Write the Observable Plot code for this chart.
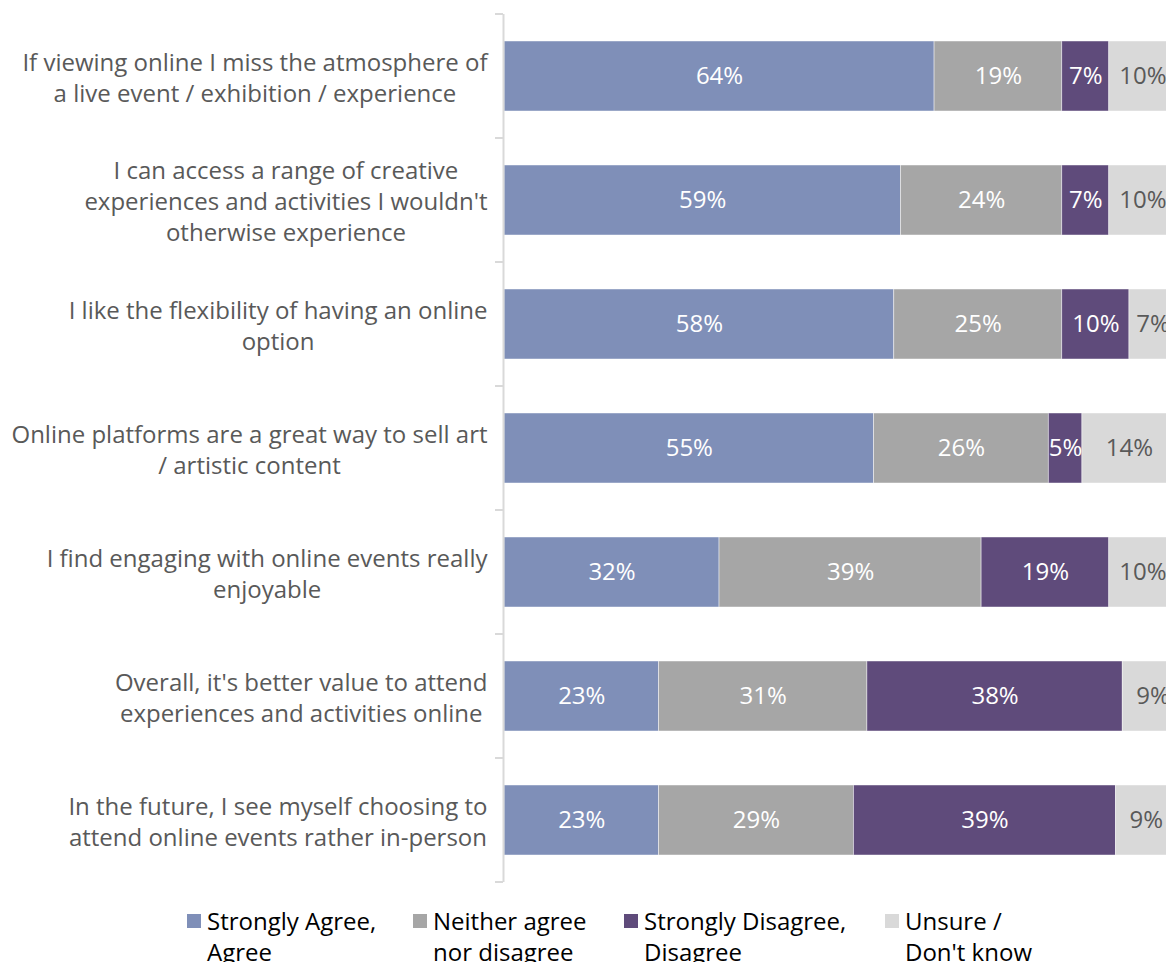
<!DOCTYPE html>
<html><head><meta charset="utf-8">
<script src="https://cdn.jsdelivr.net/npm/d3@7"></script>
<script src="https://cdn.jsdelivr.net/npm/@observablehq/plot@0.6"></script>
<style>
html,body{margin:0;padding:0;background:#fff;overflow:hidden;}
#wrap{width:1166px;height:962px;overflow:hidden;}
#chart{width:1176px;height:888px;}
#chart svg{max-width:none !important;width:1176px;height:888px;display:block;}
#legend{display:flex;margin-left:187px;margin-top:17px;font-family:"Open Sans",sans-serif;font-size:24px;line-height:31px;color:#000;}
.item{display:flex;align-items:flex-start;}
.sw{width:14px;height:14px;margin-top:9px;margin-right:6px;flex:none;}
</style></head><body>
<div id="wrap"><div id="chart"></div><div id="legend"></div></div>
<script>
const categories = [
  "If viewing online I miss the atmosphere of\na live event / exhibition / experience",
  "I can access a range of creative\nexperiences and activities I wouldn't\notherwise experience",
  "I like the flexibility of having an online\noption",
  "Online platforms are a great way to sell art\n/ artistic content",
  "I find engaging with online events really\nenjoyable",
  "Overall, it's better value to attend\nexperiences and activities online",
  "In the future, I see myself choosing to\nattend online events rather in-person"
];
const seriesNames = ["Strongly Agree, Agree", "Neither agree nor disagree", "Strongly Disagree, Disagree", "Unsure / Don't know"];
const legendLines = [["Strongly Agree,", "Agree"], ["Neither agree", "nor disagree"], ["Strongly Disagree,", "Disagree"], ["Unsure /", "Don't know"]];
const agree    = [64, 59, 58, 55, 32, 23, 23];
const neither  = [19, 24, 25, 26, 39, 31, 29];
const disagree = [7, 7, 10, 5, 19, 38, 39];
const unsure   = [10, 10, 7, 14, 10, 9, 9];
const colors = ["#7f8fb8", "#a6a6a6", "#5f4b7b", "#d9d9d9"];
const legendWidths = [226, 211, 261, 200];

const seriesValues = [agree, neither, disagree, unsure];
const data = [];
categories.forEach((c, i) => {
  seriesValues.forEach((vals, s) => data.push({cat: c, series: seriesNames[s], value: vals[i]}));
});

const font = "Open Sans";

const boundaryTicks = (index, scales, values, dimensions) => {
  const y = scales.y, x = scales.x;
  const off = (y.step() - y.bandwidth()) / 2;
  const ys = categories.map(c => y(c) - off);
  ys.push(y(categories[categories.length - 1]) - off + y.step());
  const g = d3.create("svg:g");
  g.selectAll("line").data(ys).join("line")
    .attr("x1", x(0) - 9).attr("x2", x(0) - 1)
    .attr("y1", d => d).attr("y2", d => d)
    .attr("stroke", "#d9d9d9").attr("stroke-width", 2);
  return g.node();
};

const chart = Plot.plot({
  width: 1176,
  height: 888,
  marginLeft: 504,
  marginRight: 0,
  marginTop: 14,
  marginBottom: 6,
  style: {fontFamily: font, fontSize: "24px", background: "white", maxWidth: "none"},
  x: {domain: [0, 100], axis: null},
  y: {domain: categories, paddingInner: 0.4355, paddingOuter: 0.2177, label: null},
  color: {domain: seriesNames, range: colors},
  marks: [
    Plot.barX(data, Plot.stackX({x: "value", y: "cat", fill: "series", stroke: "white", strokeWidth: 0.75, strokeOpacity: 0.6})),
    Plot.text(data, Plot.filter(d => d.series !== seriesNames[3],
      Plot.stackX({x: "value", y: "cat", text: d => d.value + "%", fill: "white", fontSize: 24}))),
    Plot.text(data, Plot.filter(d => d.series === seriesNames[3],
      Plot.stackX({x: "value", y: "cat", text: d => d.value + "%", fill: "#595959", fontSize: 24}))),
    Plot.ruleX([0], {stroke: "#d9d9d9", strokeWidth: 2, dx: -1}),
    boundaryTicks,
    Plot.axisY({tickSize: 0, tickPadding: 17, fontSize: 24, fill: "#595959", lineHeight: 1.29, tickFormat: d => d})
  ]
});
document.getElementById("chart").appendChild(chart);

// center each line of a label inside its right-aligned block
chart.querySelectorAll('g[aria-label="y-axis tick label"] text').forEach(t => {
  const spans = [...t.querySelectorAll("tspan")];
  if (!spans.length) return;
  const w = Math.max(...spans.map(s => s.getComputedTextLength()));
  t.setAttribute("text-anchor", "middle");
  spans.forEach(s => s.setAttribute("x", -w / 2));
});

const legend = document.getElementById("legend");
seriesNames.forEach((s, i) => {
  const item = document.createElement("div");
  item.className = "item";
  item.style.width = legendWidths[i] + "px";
  const sw = document.createElement("div");
  sw.className = "sw";
  sw.style.background = colors[i];
  const tx = document.createElement("div");
  tx.innerHTML = legendLines[i].join("<br>");
  item.appendChild(sw); item.appendChild(tx);
  legend.appendChild(item);
});
</script>
</body></html>
